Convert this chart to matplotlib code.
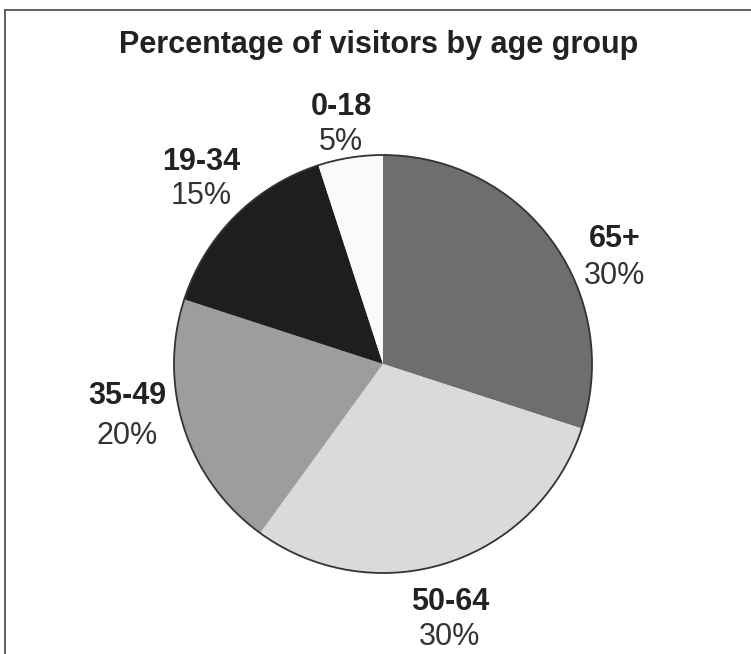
import matplotlib.pyplot as plt
from matplotlib.lines import Line2D
from matplotlib.patches import Circle

plt.rcParams["font.family"] = ["Liberation Sans", "DejaVu Sans"]

# data
groups = ["65+", "50-64", "35-49", "19-34", "0-18"]
shares = [30, 30, 20, 15, 5]
colors = ["#6e6e6e", "#dadada", "#9d9d9d", "#1e1e1e", "#fafafa"]

# label centres in pixels (x, y from top) for group and percentage lines
label_xy = {
    "65+": (615, 239, 276),
    "50-64": (450, 602, 637),
    "35-49": (127, 396, 436),
    "19-34": (201, 162, 196),
    "0-18": (341, 107, 142),
}

W, H = 751, 654
fig = plt.figure(figsize=(W / 100, H / 100), dpi=100)
ax = fig.add_axes([0, 0, 1, 1])

cx, cy, r = 383, H - 364, 209
ax.pie(shares, colors=colors, startangle=90, counterclock=False,
       center=(cx, cy), radius=r, wedgeprops=dict(linewidth=0))
ax.add_patch(Circle((cx, cy), r, fill=False, edgecolor="#333333", lw=1.3))

ax.set_xlim(0, W)
ax.set_ylim(0, H)
ax.set_aspect("equal")
ax.axis("off")

ax.text(379, H - 45, "Percentage of visitors by age group", ha="center",
        va="center", fontsize=22, fontweight="bold", color="#222222")

for g, s in zip(groups, shares):
    x, y1, y2 = label_xy[g]
    ax.text(x, H - y1, g, ha="center", va="center", fontsize=22,
            fontweight="bold", color="#222222")
    ax.text(x, H - y2, f"{s}%", ha="center", va="center", fontsize=22,
            color="#333333")

# frame on top and left
fig.add_artist(Line2D([5 / W, 1], [1 - 10 / H, 1 - 10 / H], color="#555555", lw=1.3))
fig.add_artist(Line2D([5 / W, 5 / W], [0, 1 - 10 / H], color="#555555", lw=1.3))

fig.savefig("out.png", dpi=100)
